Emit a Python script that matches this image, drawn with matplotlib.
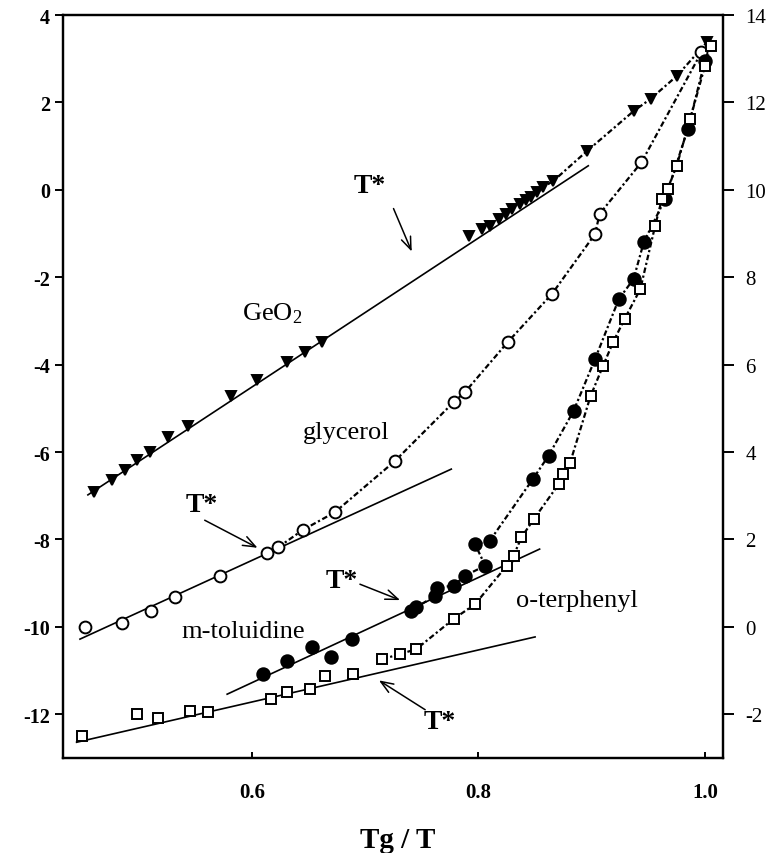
import matplotlib
matplotlib.use("Agg")
import matplotlib.pyplot as plt
import numpy as np

plt.rcParams["font.family"] = ["Liberation Serif", "DejaVu Serif"]
plt.rcParams["mathtext.fontset"] = "custom"
plt.rcParams["mathtext.rm"] = "Liberation Serif"
plt.rcParams["mathtext.it"] = "Liberation Serif:italic"
plt.rcParams["axes.unicode_minus"] = False

# GeO2 (filled down-triangles)
geo2_x = [0.460, 0.476, 0.488, 0.498, 0.510, 0.526, 0.543, 0.581, 0.604, 0.631,
          0.647, 0.662, 0.792, 0.803, 0.810, 0.818, 0.824, 0.830, 0.837, 0.842,
          0.846, 0.852, 0.857, 0.866, 0.896, 0.937, 0.952, 0.975, 1.002]
geo2_y = [-6.92, -6.63, -6.41, -6.19, -5.99, -5.65, -5.40, -4.72, -4.36, -3.94,
          -3.72, -3.48, -1.05, -0.90, -0.82, -0.66, -0.55, -0.44, -0.32, -0.24,
          -0.17, -0.05, 0.06, 0.20, 0.89, 1.80, 2.08, 2.60, 3.38]

# glycerol (open circles)
gly_x = [0.452, 0.485, 0.511, 0.532, 0.572, 0.613, 0.623, 0.645, 0.673, 0.726,
         0.778, 0.788, 0.826, 0.865, 0.903, 0.907, 0.944, 0.997]
gly_y = [-10.01, -9.91, -9.63, -9.32, -8.83, -8.30, -8.18, -7.78, -7.38, -6.21,
         -4.86, -4.63, -3.48, -2.38, -1.01, -0.55, 0.63, 3.15]

# m-toluidine (filled circles)
mtol_x = [0.610, 0.631, 0.653, 0.670, 0.688, 0.740, 0.745, 0.762, 0.763, 0.778,
          0.788, 0.806, 0.797, 0.810, 0.848, 0.862, 0.884, 0.903, 0.924, 0.937,
          0.946, 0.965, 0.985, 1.000]
mtol_y = [-11.08, -10.78, -10.47, -10.70, -10.28, -9.63, -9.55, -9.29, -9.10, -9.06,
          -8.83, -8.60, -8.11, -8.03, -6.62, -6.08, -5.06, -3.87, -2.50, -2.04,
          -1.20, -0.20, 1.40, 2.95]

# o-terphenyl (open squares)
ot_x = [0.450, 0.498, 0.517, 0.545, 0.561, 0.617, 0.631, 0.651, 0.664, 0.689,
        0.715, 0.731, 0.745, 0.778, 0.797, 0.825, 0.831, 0.838, 0.849, 0.871,
        0.875, 0.881, 0.899, 0.910, 0.919, 0.929, 0.943, 0.956, 0.962, 0.967,
        0.975, 0.987, 1.000, 1.005]
ot_y = [-12.49, -12.00, -12.09, -11.92, -11.94, -11.64, -11.50, -11.41, -11.12, -11.08,
        -10.74, -10.62, -10.51, -9.82, -9.48, -8.60, -8.37, -7.95, -7.53, -6.73,
        -6.50, -6.24, -4.72, -4.03, -3.48, -2.96, -2.27, -0.83, -0.21, 0.02,
        0.54, 1.62, 2.83, 3.29]

# Arrhenius fits below T* (end points of each straight line)
fit_geo2 = ([0.455, 0.897], [-6.98, 0.55])
fit_gly = ([0.448, 0.776], [-10.28, -6.39])
fit_mtol = ([0.578, 0.854], [-11.54, -8.22])
fit_ot = ([0.445, 0.850], [-12.64, -10.23])

# where the dotted high-temperature curve starts for each liquid
dot_start = {"geo2": 0.852, "gly": 0.623, "mtol": 0.740, "ot": 0.715}

fig = plt.figure(figsize=(7.8, 8.54), dpi=100)
ax = fig.add_axes([63 / 780, 1 - 759 / 854, 660 / 780, 743 / 854])
ax.set_xlim(0.433, 1.016)
ax.set_ylim(-13.0, 4.0)

dotted = (0, (2.5, 1.2, 1.0, 1.2))


def draw_set(xs, ys, fit, start, marker, ms, face):
    xs = np.asarray(xs)
    ys = np.asarray(ys)
    ax.plot(fit[0], fit[1], color="black", lw=1.2, zorder=2)
    sel = xs >= start
    ax.plot(xs[sel], ys[sel], color="black", lw=1.6, ls=dotted, zorder=2)
    ax.plot(xs, ys, ls="none", marker=marker, ms=ms, mfc=face, mec="black",
            mew=1.4, zorder=3)


draw_set(geo2_x, geo2_y, fit_geo2, dot_start["geo2"], "v", 6.8, "black")
draw_set(gly_x, gly_y, fit_gly, dot_start["gly"], "o", 8.5, "white")
draw_set(mtol_x, mtol_y, fit_mtol, dot_start["mtol"], "o", 9, "black")
draw_set(ot_x, ot_y, fit_ot, dot_start["ot"], "s", 7.5, "white")

# labels
lab_kw = dict(fontsize=19, ha="center", va="center")
ax.text(0.618, -2.80, r"GeO$_2$", **lab_kw)
ax.text(0.683, -5.54, "glycerol", **lab_kw)
ax.text(0.592, -10.10, "m-toluidine", **lab_kw)
ax.text(0.887, -9.39, "o-terphenyl", **lab_kw)

# T* markers with arrows
tstar = [
    ((0.704, 0.11), (0.724, -0.37), (0.742, -1.47)),
    ((0.556, -7.19), (0.556, -7.53), (0.607, -8.22)),
    ((0.679, -8.95), (0.693, -9.00), (0.733, -9.41)),
    ((0.766, -12.16), (0.755, -11.93), (0.710, -11.19)),
]
for txt_pos, start, tip in tstar:
    ax.text(*txt_pos, "T*", fontsize=20, fontweight="bold", ha="center", va="center")
    ax.annotate("", xy=tip, xytext=start,
                arrowprops=dict(arrowstyle="->,head_length=0.9,head_width=0.35",
                                color="black", lw=1.1))

# axes styling
for s in ax.spines.values():
    s.set_linewidth(1.6)
ax.set_xticks([0.6, 0.8, 1.0])
ax.set_xticklabels(["0.6", "0.8", "1.0"])
ax.set_yticks(np.arange(-12, 5, 2))
ax.tick_params(axis="x", direction="in", length=4, width=1.4, pad=17,
               labelsize=15)
ax.tick_params(axis="y", direction="out", length=6, width=1.4, labelsize=14.5)
for lbl in ax.get_xticklabels() + ax.get_yticklabels():
    lbl.set_fontweight("bold")

ax2 = ax.twinx()
ax2.set_ylim(-3, 14)
ax2.set_yticks(np.arange(-2, 15, 2))
ax2.tick_params(axis="y", direction="out", length=8, width=1.4, labelsize=15,
                pad=8)
for s in ax2.spines.values():
    s.set_linewidth(1.6)

fig.text(398 / 780, 1 - 848 / 854, "Tg / T", fontsize=21, fontweight="bold",
         ha="center", va="baseline")

fig.savefig("out.png", dpi=100, facecolor="white")
